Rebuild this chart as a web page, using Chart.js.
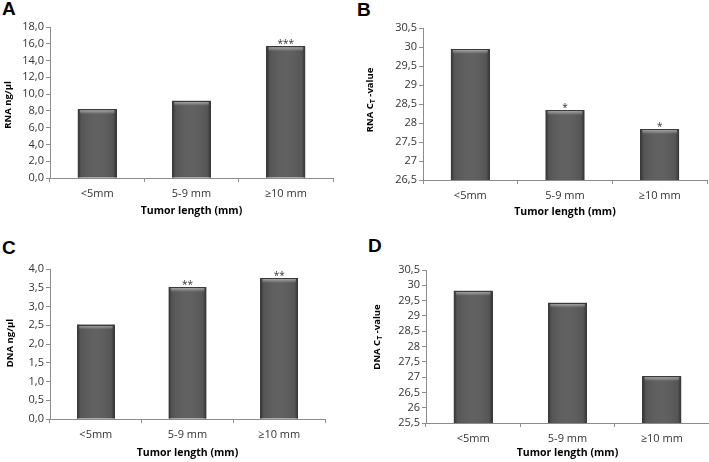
<!DOCTYPE html>
<html>
<head>
<meta charset="utf-8">
<script src="https://cdn.jsdelivr.net/npm/chart.js@4.4.1/dist/chart.umd.min.js"></script>
<style>
  body { margin: 0; background: #fff; width: 709px; height: 462px; position: relative; overflow: hidden; }
  .panel { position: absolute; }
  .letter { position: absolute; font-family: "Liberation Sans", Arial, sans-serif; font-weight: bold; font-size: 19px; line-height: 19px; color: #000; }
</style>
</head>
<body>
<div class="letter" style="left:2px;top:-1px">A</div>
<div class="letter" style="left:357px;top:0px">B</div>
<div class="letter" style="left:2px;top:238px">C</div>
<div class="letter" style="left:368px;top:236px">D</div>
<div class="panel" style="left:0;top:0"><canvas id="chartA" width="355" height="231"></canvas></div>
<div class="panel" style="left:355px;top:0"><canvas id="chartB" width="354" height="231"></canvas></div>
<div class="panel" style="left:0;top:231px"><canvas id="chartC" width="355" height="231"></canvas></div>
<div class="panel" style="left:355px;top:231px"><canvas id="chartD" width="354" height="231"></canvas></div>
<script>
'use strict';

// data
const categories = ['<5mm', '5-9 mm', '\u226510 mm'];
const rnaConc = [8.2, 9.2, 15.7];
const rnaCt = [29.95, 28.34, 27.84];
const dnaConc = [2.52, 3.52, 3.76];
const dnaCt = [29.82, 29.43, 27.03];

// significance marks above bars
const rnaConcStars = ['', '', '***'];
const rnaCtStars = ['', '*', '*'];
const dnaConcStars = ['', '**', '**'];
const dnaCtStars = ['', '', ''];

// y tick ranges [min, max, step]
const rnaConcTicks = [0, 18, 2];
const rnaCtTicks = [26.5, 30.5, 0.5];
const dnaConcTicks = [0, 4, 0.5];
const dnaCtTicks = [25.5, 30.5, 0.5];

const xTitle = 'Tumor length (mm)';
const FONT = '"Open Sans", Lato, sans-serif';
const AXIS = '#8c8c8c';

function fmtFixed(v) { return v.toFixed(1).replace('.', ','); }
function fmtAuto(v) { return Number.isInteger(v) ? String(v) : v.toFixed(1).replace('.', ','); }

// yTitle: [before, subscript, after]
function makePanel(id, values, stars, ticks, fmt, yTitle, area, yTitleX, yTitleY, xTitleY) {
  const canvas = document.getElementById(id);
  const W = canvas.width, H = canvas.height;

  const decor = {
    id: 'decor',
    afterDatasetsDraw(chart) {
      const ctx = chart.ctx;
      const ca = chart.chartArea;
      chart.getDatasetMeta(0).data.forEach((bar, i) => {
        const p = bar.getProps(['x', 'y', 'base', 'width'], true);
        const l = p.x - p.width / 2, r = p.x + p.width / 2;
        const top = Math.min(p.y, p.base), bot = Math.min(Math.max(p.y, p.base), ca.bottom);
        ctx.save();
        let g = ctx.createLinearGradient(l, 0, r, 0);
        g.addColorStop(0, 'rgba(0,0,0,0.45)');
        g.addColorStop(0.09, 'rgba(0,0,0,0.08)');
        g.addColorStop(0.5, 'rgba(255,255,255,0.03)');
        g.addColorStop(0.91, 'rgba(0,0,0,0.08)');
        g.addColorStop(1, 'rgba(0,0,0,0.45)');
        ctx.fillStyle = g;
        ctx.fillRect(l, top, r - l, bot - top);
        g = ctx.createLinearGradient(0, top, 0, top + 5);
        g.addColorStop(0, 'rgba(255,255,255,0.55)');
        g.addColorStop(1, 'rgba(255,255,255,0)');
        ctx.fillStyle = g;
        ctx.fillRect(l + 2, top + 1, r - l - 4, 4);
        // outline on left, top and right only
        const L = Math.round(l) + 0.5, R = Math.round(r) - 0.5, T = Math.round(top) + 0.5;
        ctx.strokeStyle = '#3a3a3a';
        ctx.lineWidth = 1;
        ctx.beginPath();
        ctx.moveTo(L, bot);
        ctx.lineTo(L, T);
        ctx.lineTo(R, T);
        ctx.lineTo(R, bot);
        ctx.stroke();
        if (stars[i]) {
          ctx.fillStyle = '#333';
          ctx.font = '10px ' + FONT;
          ctx.textAlign = 'center';
          ctx.textBaseline = 'alphabetic';
          ctx.fillText(stars[i], p.x, top + 1);
        }
        ctx.restore();
      });
    },
    afterDraw(chart) {
      const ctx = chart.ctx;
      const ca = chart.chartArea;
      ctx.save();
      // x axis title
      ctx.fillStyle = '#000';
      ctx.font = 'bold 10.5px ' + FONT;
      ctx.textAlign = 'center';
      ctx.textBaseline = 'middle';
      ctx.fillText(xTitle, (ca.left + ca.right) / 2, xTitleY);
      // y axis title, rotated, with optional subscript
      ctx.translate(yTitleX, yTitleY);
      ctx.rotate(-Math.PI / 2);
      ctx.textAlign = 'left';
      ctx.textBaseline = 'middle';
      const big = 'bold 9.5px ' + FONT, small = 'bold 7px ' + FONT;
      ctx.font = big;
      const w1 = ctx.measureText(yTitle[0]).width;
      const w3 = ctx.measureText(yTitle[2]).width;
      ctx.font = small;
      const w2 = ctx.measureText(yTitle[1]).width;
      let x = -(w1 + w2 + w3) / 2;
      ctx.font = big;
      ctx.fillText(yTitle[0], x, 0);
      x += w1;
      ctx.font = small;
      ctx.fillText(yTitle[1], x, 3);
      x += w2;
      ctx.font = big;
      ctx.fillText(yTitle[2], x, 0);
      ctx.restore();
    }
  };

  return new Chart(canvas, {
    type: 'bar',
    data: {
      labels: categories,
      datasets: [{
        data: values,
        backgroundColor: '#5c5c5c',
        borderWidth: 0,
        categoryPercentage: 1,
        barPercentage: 0.41
      }]
    },
    options: {
      responsive: false,
      animation: false,
      layout: { padding: { top: area.top, right: W - area.right, left: 0, bottom: 0 } },
      plugins: { legend: { display: false }, tooltip: { enabled: false } },
      scales: {
        x: {
          border: { color: AXIS, width: 1 },
          grid: { display: true, drawOnChartArea: false, drawTicks: true, tickLength: 4, color: AXIS },
          ticks: { color: '#333', padding: 5, font: { family: FONT, size: 11 } },
          afterFit(s) { s.height = H - area.bottom; s.paddingLeft = 0; s.paddingRight = 0; }
        },
        y: {
          min: ticks[0],
          max: ticks[1],
          border: { color: AXIS, width: 1 },
          grid: { display: true, drawOnChartArea: false, drawTicks: true, tickLength: 4, color: AXIS },
          ticks: {
            stepSize: ticks[2],
            autoSkip: false,
            color: '#333',
            padding: 2,
            font: { family: FONT, size: 11 },
            callback: v => fmt(v)
          },
          afterFit(s) { s.width = area.left; s.paddingTop = 0; s.paddingBottom = 0; }
        }
      }
    },
    plugins: [decor]
  });
}

makePanel('chartA', rnaConc, rnaConcStars, rnaConcTicks, fmtFixed, ['RNA ng/\u00b5l', '', ''],
  { left: 50, top: 27, right: 333, bottom: 178 }, 8, 105, 211);
makePanel('chartB', rnaCt, rnaCtStars, rnaCtTicks, fmtAuto, ['RNA C', 'T', ' -value'],
  { left: 68, top: 28, right: 352, bottom: 180 }, 15, 100, 212);
makePanel('chartC', dnaConc, dnaConcStars, dnaConcTicks, fmtFixed, ['DNA ng/\u00b5l', '', ''],
  { left: 50, top: 38, right: 325, bottom: 188 }, 10, 112, 222);
makePanel('chartD', dnaCt, dnaCtStars, dnaCtTicks, fmtAuto, ['DNA C', 'T', ' -value'],
  { left: 71, top: 39, right: 354, bottom: 192 }, 22, 106, 222);
</script>
</body>
</html>
